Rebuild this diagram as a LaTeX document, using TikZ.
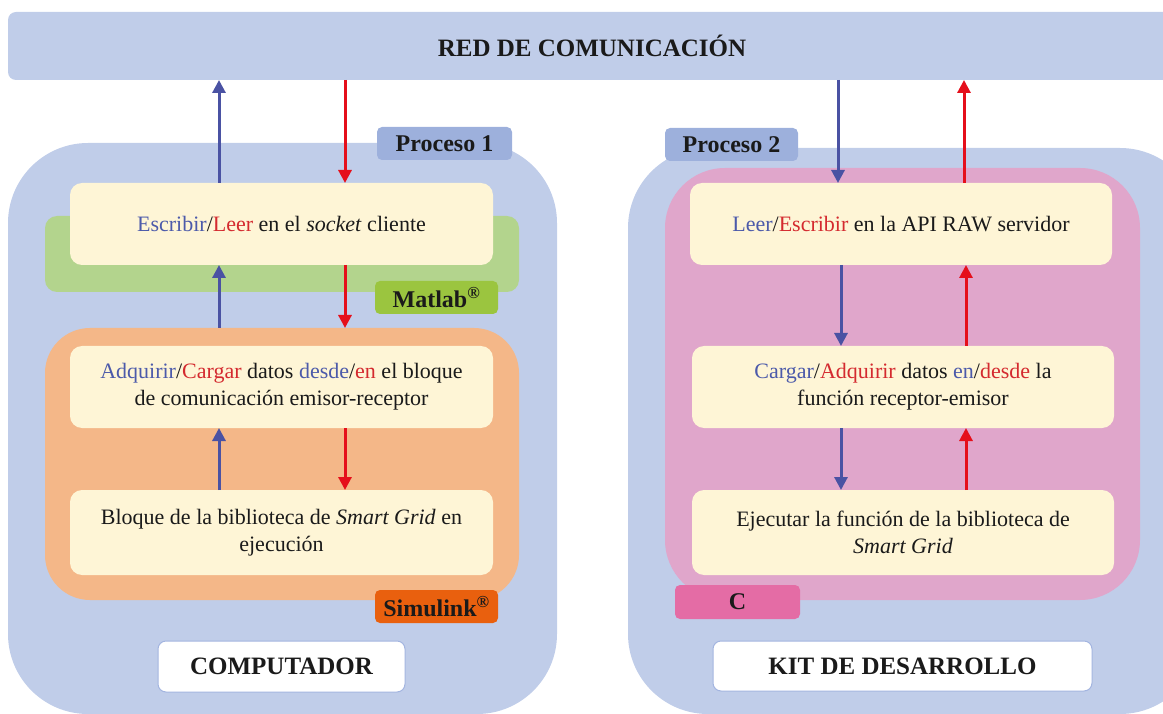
\documentclass[tikz,border=0pt]{standalone}
\usepackage{fontspec}
\setmainfont{Liberation Serif}
\usetikzlibrary{arrows.meta}
\definecolor{barblue}{HTML}{C0CDE9}
\definecolor{tabblue}{HTML}{9DB0DC}
\definecolor{pinkbox}{HTML}{E0A6CB}
\definecolor{orangebox}{HTML}{F4B788}
\definecolor{greenbox}{HTML}{B3D48D}
\definecolor{matlabc}{HTML}{9BC53F}
\definecolor{simulinkc}{HTML}{E9600E}
\definecolor{ctag}{HTML}{E46CA5}
\definecolor{yel}{HTML}{FEF5D6}
\definecolor{wborder}{HTML}{A3B5E0}
\definecolor{arrblue}{HTML}{4A52A3}
\definecolor{arrred}{HTML}{E50F1B}
\definecolor{tblue}{HTML}{4C5AAA}
\definecolor{tred}{HTML}{D42A2F}
\definecolor{ink}{HTML}{1A1A1A}
\tikzset{
  ybox/.style={fill=yel, rounded corners=12, minimum width=423, minimum height=82,
    inner sep=0, outer sep=0, align=center, text=ink, font=\fontsize{22}{27}\selectfont},
  tagbox/.style={rounded corners=5, inner sep=0, outer sep=0, minimum height=33,
    text=ink, font=\fontsize{24}{27}\selectfont\bfseries},
  region/.style={inner sep=0, outer sep=0},
  namebox/.style={fill=white, draw=wborder, line width=1, rounded corners=8,
    inner sep=0, outer sep=0, text=ink, font=\fontsize{25}{28}\selectfont\bfseries},
  barrow/.style={draw=arrblue, line width=3, -{Triangle[length=13,width=13]}},
  rarrow/.style={draw=arrred, line width=3, -{Triangle[length=13,width=13]}},
}
\begin{document}
\begin{tikzpicture}[x=1pt,y=-1pt]
\useasboundingbox (0,0) rectangle (1163,714);
\begin{scope}
\clip (0,0) rectangle (1163,714);
% top bar
\node[region, fill=barblue, rounded corners=8, minimum width=1180, minimum height=68,
  anchor=north west] (bar) at (8,12) {};
\node[text=ink, font=\fontsize{25}{28}\selectfont\bfseries] (bartext) at (592,46) {RED DE COMUNICACIÓN};

% left big
\node[region, fill=barblue, rounded corners=80, minimum width=549, minimum height=571] (lbig) at (282.5,428.5) {};
\node[tagbox, fill=tabblue, minimum width=135] (p1) at (444.5,143.5) {Proceso 1};
\node[region, fill=greenbox, rounded corners=12, minimum width=474, minimum height=76] (green) at (282,254) {};
\node[tagbox, fill=matlabc, minimum width=123] (matlab) at (436.5,297.5) {Matlab\textsuperscript{®}};
\node[ybox] (b1) at (281.5,224) {\textcolor{tblue}{Escribir}/\textcolor{tred}{Leer} en el \textit{socket} cliente};
\node[region, fill=orangebox, rounded corners=45, minimum width=474, minimum height=272] (orange) at (282,464) {};
\node[ybox] (b2) at (281.5,387) {\textcolor{tblue}{Adquirir}/\textcolor{tred}{Cargar} datos \textcolor{tblue}{desde}/\textcolor{tred}{en} el bloque\\de comunicación emisor-receptor};
\node[ybox, minimum height=85] (b3) at (281.5,532.5) {Bloque de la biblioteca de \textit{Smart Grid} en\\ejecución};
\node[tagbox, fill=simulinkc, minimum width=123] (simulink) at (436.5,606.5) {Simulink\textsuperscript{®}};
\node[namebox, minimum width=247, minimum height=51] (comp) at (281.5,666.5) {COMPUTADOR};

% right big
\node[region, fill=barblue, rounded corners=80, minimum width=572, minimum height=566] (rbig) at (914,431) {};
\node[region, fill=pinkbox, rounded corners=60, minimum width=475, minimum height=432] (pink) at (902.5,384) {};
\node[tagbox, fill=tabblue, minimum width=133] (p2) at (731.5,144.5) {Proceso 2};
\node[ybox, minimum width=422] (r1) at (901,224) {\textcolor{tblue}{Leer}/\textcolor{tred}{Escribir} en la API RAW servidor};
\node[ybox, minimum width=422] (r2) at (903,387) {\textcolor{tblue}{Cargar}/\textcolor{tred}{Adquirir} datos \textcolor{tblue}{en}/\textcolor{tred}{desde} la\\función receptor-emisor};
\node[ybox, minimum width=422, minimum height=85] (r3) at (903,532.5) {Ejecutar la función de la biblioteca de\\\textit{Smart Grid}};
\node[tagbox, fill=ctag, minimum width=125, minimum height=34] (ct) at (737.5,602) {C};
\node[namebox, minimum width=379, minimum height=50] (kit) at (902.5,666) {KIT DE DESARROLLO};
\end{scope}

% arrow columns
\coordinate (xa) at (219,0);
\coordinate (xb) at (345,0);
\coordinate (xc) at (838,0);
\coordinate (xd) at (964,0);
\coordinate (xe) at (841,0);
\coordinate (xf) at (966,0);

% left arrows
\draw[barrow] (b1.north -| xa) -- (bar.south -| xa);
\draw[rarrow] (bar.south -| xb) -- (b1.north -| xb);
\draw[barrow] (orange.north -| xa) -- (b1.south -| xa);
\draw[rarrow] (b1.south -| xb) -- (orange.north -| xb);
\draw[barrow] (b3.north -| xa) -- (b2.south -| xa);
\draw[rarrow] (b2.south -| xb) -- (b3.north -| xb);

% right arrows
\draw[barrow] (bar.south -| xc) -- (r1.north -| xc);
\draw[rarrow] (r1.north -| xd) -- (bar.south -| xd);
\draw[barrow] (r1.south -| xe) -- (r2.north -| xe);
\draw[rarrow] (r2.north -| xf) -- (r1.south -| xf);
\draw[barrow] (r2.south -| xe) -- (r3.north -| xe);
\draw[rarrow] (r3.north -| xf) -- (r2.south -| xf);
\end{tikzpicture}
\end{document}
